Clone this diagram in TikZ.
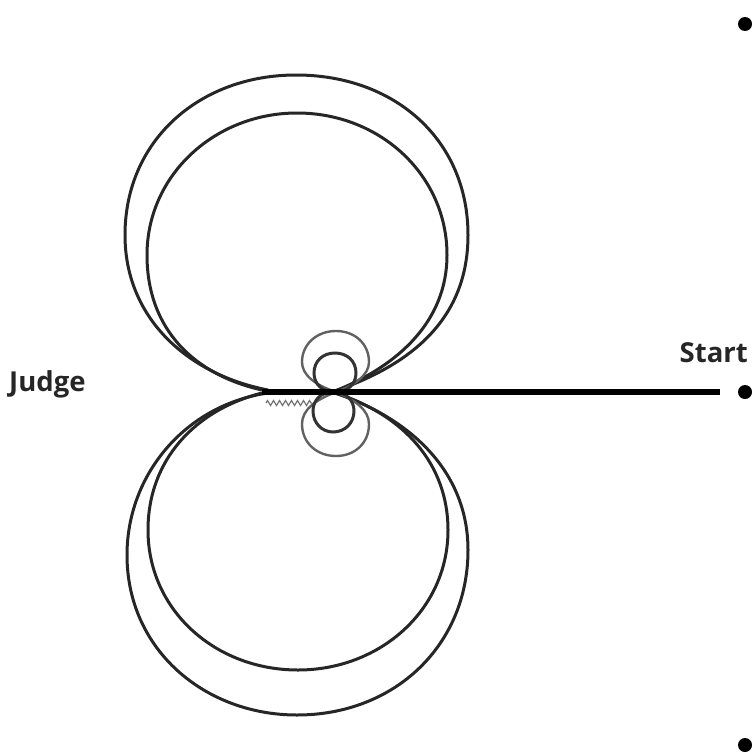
\documentclass[tikz,border=0pt]{standalone}
\usepackage{fontspec}
\setmainfont{Open Sans}
\usetikzlibrary{decorations.pathmorphing}
\tikzset{
  loopline/.style={draw=black!85, line width=3pt},
  smallloop/.style={draw=black!62, line width=2.4pt},
  smallinner/.style={draw=black!80, line width=3pt},
  dotnode/.style={circle, fill=black, inner sep=0pt, minimum size=14pt},
  lab/.style={font=\bfseries\fontsize{27.5}{30}\selectfont, text=black!85, inner sep=0pt},
  spring/.style={draw=black!55, line width=1.2pt, decorate, decoration={zigzag, amplitude=2.5pt, segment length=6pt}}
}
\begin{document}
\begin{tikzpicture}[x=1pt,y=-1pt]
\useasboundingbox (0,0) rectangle (754,755);
\clip (0,0) rectangle (754,755);
% upper loops
\path[loopline] (268,390) .. controls (190,375) and (125,320) .. (125,235)
  .. controls (125,140) and (200,75) .. (296,75)
  .. controls (395,75) and (468,140) .. (468,235)
  .. controls (468,320) and (410,365) .. (335,391);
\path[loopline] (262,390) .. controls (195,375) and (147,330) .. (147,255)
  .. controls (147,175) and (215,113) .. (297,113)
  .. controls (380,113) and (447,175) .. (447,255)
  .. controls (447,320) and (400,365) .. (335,391);
% lower loops
\path[loopline] (268,393) .. controls (185,405) and (127,475) .. (127,555)
  .. controls (127,650) and (205,715) .. (297,715)
  .. controls (395,715) and (468,645) .. (468,550)
  .. controls (468,475) and (415,420) .. (335,393);
\path[loopline] (262,393) .. controls (195,410) and (148,460) .. (148,530)
  .. controls (148,610) and (215,670) .. (298,670)
  .. controls (380,670) and (448,610) .. (448,530)
  .. controls (448,465) and (405,415) .. (335,393);
% small loops
\path[smallloop] (336,392) .. controls (315,385) and (302,375) .. (302,362)
  .. controls (302,344) and (317,331) .. (336,331)
  .. controls (355,331) and (369,344) .. (369,362)
  .. controls (369,375) and (355,385) .. (336,392);
\path[smallinner] (335,392) .. controls (322,392) and (314,384) .. (314,373)
  .. controls (314,361) and (323,353) .. (335,353)
  .. controls (347,353) and (356,361) .. (356,373)
  .. controls (356,384) and (348,392) .. (335,392);
\path[smallloop] (336,392) .. controls (315,400) and (302,410) .. (302,424)
  .. controls (302,443) and (317,456) .. (336,456)
  .. controls (355,456) and (369,443) .. (369,424)
  .. controls (369,410) and (355,400) .. (336,392);
\path[smallinner] (333,392) .. controls (321,392) and (313,400) .. (313,411)
  .. controls (313,423) and (322,432) .. (333,432)
  .. controls (345,432) and (354,423) .. (354,411)
  .. controls (354,400) and (346,392) .. (333,392);
% named elements
\node[dotnode] (startdot) at (745,392) {};
\node[dotnode] (topdot) at (745,24) {};
\node[dotnode] (bottomdot) at (745,745) {};
\node[lab, anchor=base west] (judge) at (9,391) {Judge};
\node[lab, anchor=base east] (start) at (748,362) {Start};
\coordinate (springa) at (266,403);
\coordinate (springb) at (312,403);
\coordinate (lineend) at (262,392);
\coordinate (linestart) at (720,392);
\draw[spring] (springa) -- (springb);
\draw[line width=5.5pt] (lineend) -- (linestart);
\end{tikzpicture}
\end{document}
